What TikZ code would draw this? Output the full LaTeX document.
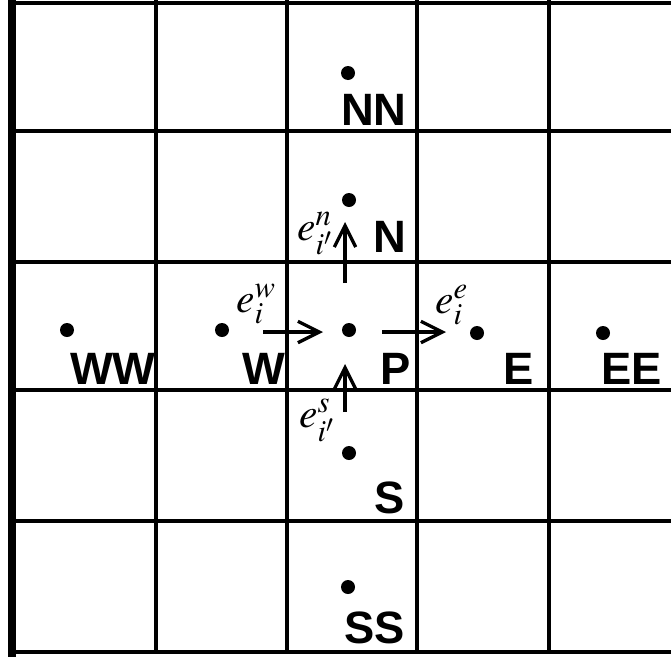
\documentclass[tikz,border=0pt]{standalone}
\usepackage{mathptmx}
\usepackage{fontspec}
\setsansfont{Liberation Sans}
\usetikzlibrary{arrows.meta}

\begin{document}
\begin{tikzpicture}[x=0.75pt,y=0.75pt,yscale=-1,xscale=1,
	grid line/.style={line width=3pt},
	dot/.style={circle,fill,inner sep=0pt,minimum size=10.5pt},
	lbl/.style={font=\fontsize{34}{40}\selectfont\sffamily\bfseries,inner sep=0pt,anchor=base east},
	flux/.style={line width=2.5pt,-{Straight Barb[length=16pt,width=16pt]}},
	flab/.style={font=\fontsize{31}{35}\selectfont,inner sep=0pt,anchor=base west}]
	\useasboundingbox (0,0) rectangle (671,657);
	
	%Shape: Grid
	\foreach \x in {156,287,417,549} \draw [grid line] (\x,0) -- (\x,654);
	\foreach \y in {3,131,262,390,521,652} \draw [grid line] (12,\y) -- (671,\y);
	\draw [line width=5.5pt] (12,0) -- (12,657);
	
	%Shape: Nodes
	\node [dot] (WW) at (67,330) {};
	\node [dot] (W) at (222,330) {};
	\node [dot] (P) at (349,330) {};
	\node [dot] (E) at (477,333) {};
	\node [dot] (EE) at (603,333) {};
	\node [dot] (NN) at (348,73) {};
	\node [dot] (N) at (349,200) {};
	\node [dot] (S) at (349,453) {};
	\node [dot] (SS) at (348,587) {};
	
	% Text Node
	\node [lbl] (lWW) at (156,384) {WW};
	\node [lbl] (lW) at (286,384) {W};
	\node [lbl] (lP) at (411,384) {P};
	\node [lbl] (lE) at (534,384) {E};
	\node [lbl] (lEE) at (662,384) {EE};
	\node [lbl] (lNN) at (407,125) {NN};
	\node [lbl] (lN) at (406,252) {N};
	\node [lbl] (lS) at (405,513) {S};
	\node [lbl] (lSS) at (405,643) {SS};
	
	%Straight Lines: face vectors
	\coordinate (w0) at (263,332);
	\coordinate (w1) at (323,332);
	\coordinate (e0) at (382,332);
	\coordinate (e1) at (446,332);
	\coordinate (n0) at (345,283);
	\coordinate (n1) at (345,222);
	\coordinate (s0) at (345,412);
	\coordinate (s1) at (345,364);
	\draw [flux] (w0) -- (w1);
	\draw [flux] (e0) -- (e1);
	\draw [flux] (n0) -- (n1);
	\draw [flux] (s0) -- (s1);
	
	% Text Node
	\node [flab] (ew) at (236,312) {$e_i^w$};
	\node [flab] (ee) at (435,313) {$e_i^e$};
	\node [flab] (en) at (297,240) {$e_{i'}^n$};
	\node [flab] (es) at (299,427) {$e_{i'}^s$};
	
\end{tikzpicture}
\end{document}
